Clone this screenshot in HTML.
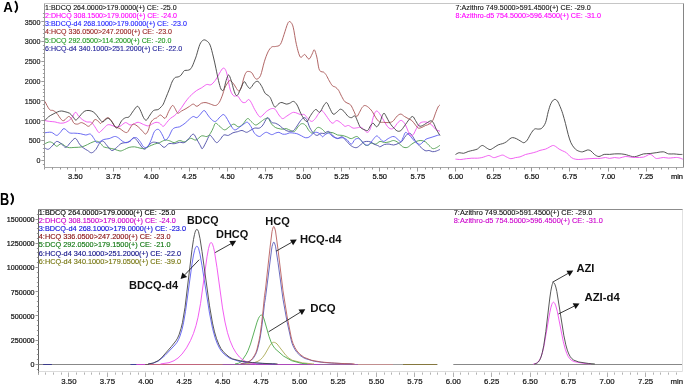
<!DOCTYPE html>
<html><head><meta charset="utf-8"><style>
html,body{margin:0;padding:0;background:#fff;width:685px;height:385px;overflow:hidden}
svg{display:block}
text{font-family:"Liberation Sans",sans-serif}
</style></head><body>
<svg width="685" height="385" viewBox="0 0 685 385" style="will-change:transform" font-family="Liberation Sans, sans-serif">
<rect width="685" height="385" fill="#fff"/>
<text x="0" y="0" font-size="14.3" font-weight="bold" fill="#000" transform="translate(3.2,11.8) scale(0.93,1)">A</text>
<path d="M15.0,1.2 C18.0,4.5 18.0,9.3 15.0,12.5" stroke="#000" stroke-width="1.9" fill="none"/>
<path d="M44.5,3.5 H683.5" stroke="#c6c6c6" stroke-width="1.2" fill="none"/>
<path d="M683.5,3.5 V167.5" stroke="#858585" stroke-width="1" fill="none"/>
<path d="M44.5,3.5 V167.5" stroke="#9a9a9a" stroke-width="1" fill="none"/>
<path d="M44.5,167.5 H683.5" stroke="#a8a8a8" stroke-width="1" fill="none"/>
<path d="M42.9,164.50 H44.5 M41.3,160.50 H44.5 M42.9,156.50 H44.5 M42.9,152.50 H44.5 M42.9,148.50 H44.5 M42.9,144.50 H44.5 M41.3,140.50 H44.5 M42.9,136.50 H44.5 M42.9,132.50 H44.5 M42.9,128.50 H44.5 M42.9,124.50 H44.5 M41.3,120.50 H44.5 M42.9,116.50 H44.5 M42.9,112.50 H44.5 M42.9,108.50 H44.5 M42.9,104.50 H44.5 M41.3,100.50 H44.5 M42.9,96.50 H44.5 M42.9,92.50 H44.5 M42.9,89.50 H44.5 M42.9,85.50 H44.5 M41.3,81.50 H44.5 M42.9,77.50 H44.5 M42.9,73.50 H44.5 M42.9,69.50 H44.5 M42.9,65.50 H44.5 M41.3,61.50 H44.5 M42.9,57.50 H44.5 M42.9,53.50 H44.5 M42.9,49.50 H44.5 M42.9,45.50 H44.5 M41.3,41.50 H44.5 M42.9,37.50 H44.5 M42.9,33.50 H44.5 M42.9,29.50 H44.5 M42.9,25.50 H44.5 M41.3,21.50 H44.5 M42.9,17.50 H44.5 M42.9,13.50 H44.5" stroke="#909090" stroke-width="0.9" fill="none"/>
<text x="0" y="0" transform="translate(40.5,163.1) scale(0.9,1)" font-size="7.9" text-anchor="end" fill="#1a1a1a" stroke="#1a1a1a" stroke-width="0.2">0</text>
<text x="0" y="0" transform="translate(40.5,143.3) scale(0.9,1)" font-size="7.9" text-anchor="end" fill="#1a1a1a" stroke="#1a1a1a" stroke-width="0.2">500</text>
<text x="0" y="0" transform="translate(40.5,123.5) scale(0.9,1)" font-size="7.9" text-anchor="end" fill="#1a1a1a" stroke="#1a1a1a" stroke-width="0.2">1000</text>
<text x="0" y="0" transform="translate(40.5,103.7) scale(0.9,1)" font-size="7.9" text-anchor="end" fill="#1a1a1a" stroke="#1a1a1a" stroke-width="0.2">1500</text>
<text x="0" y="0" transform="translate(40.5,83.9) scale(0.9,1)" font-size="7.9" text-anchor="end" fill="#1a1a1a" stroke="#1a1a1a" stroke-width="0.2">2000</text>
<text x="0" y="0" transform="translate(40.5,64.1) scale(0.9,1)" font-size="7.9" text-anchor="end" fill="#1a1a1a" stroke="#1a1a1a" stroke-width="0.2">2500</text>
<text x="0" y="0" transform="translate(40.5,44.3) scale(0.9,1)" font-size="7.9" text-anchor="end" fill="#1a1a1a" stroke="#1a1a1a" stroke-width="0.2">3000</text>
<text x="0" y="0" transform="translate(40.5,24.5) scale(0.9,1)" font-size="7.9" text-anchor="end" fill="#1a1a1a" stroke="#1a1a1a" stroke-width="0.2">3500</text>
<path d="M44.50,167.5 V169.5 M52.50,167.5 V169.5 M60.50,167.5 V169.5 M67.50,167.5 V169.5 M75.50,167.5 V171.5 M82.50,167.5 V169.5 M90.50,167.5 V169.5 M98.50,167.5 V169.5 M105.50,167.5 V169.5 M113.50,167.5 V171.5 M120.50,167.5 V169.5 M128.50,167.5 V169.5 M136.50,167.5 V169.5 M143.50,167.5 V169.5 M151.50,167.5 V171.5 M159.50,167.5 V169.5 M166.50,167.5 V169.5 M174.50,167.5 V169.5 M181.50,167.5 V169.5 M189.50,167.5 V171.5 M197.50,167.5 V169.5 M204.50,167.5 V169.5 M212.50,167.5 V169.5 M219.50,167.5 V169.5 M227.50,167.5 V171.5 M235.50,167.5 V169.5 M242.50,167.5 V169.5 M250.50,167.5 V169.5 M257.50,167.5 V169.5 M265.50,167.5 V171.5 M273.50,167.5 V169.5 M280.50,167.5 V169.5 M288.50,167.5 V169.5 M295.50,167.5 V169.5 M303.50,167.5 V171.5 M311.50,167.5 V169.5 M318.50,167.5 V169.5 M326.50,167.5 V169.5 M334.50,167.5 V169.5 M341.50,167.5 V171.5 M349.50,167.5 V169.5 M356.50,167.5 V169.5 M364.50,167.5 V169.5 M372.50,167.5 V169.5 M379.50,167.5 V171.5 M387.50,167.5 V169.5 M394.50,167.5 V169.5 M402.50,167.5 V169.5 M410.50,167.5 V169.5 M417.50,167.5 V171.5 M425.50,167.5 V169.5 M432.50,167.5 V169.5 M440.50,167.5 V169.5 M448.50,167.5 V169.5 M455.50,167.5 V171.5 M463.50,167.5 V169.5 M471.50,167.5 V169.5 M478.50,167.5 V169.5 M486.50,167.5 V169.5 M493.50,167.5 V171.5 M501.50,167.5 V169.5 M509.50,167.5 V169.5 M516.50,167.5 V169.5 M524.50,167.5 V169.5 M531.50,167.5 V171.5 M539.50,167.5 V169.5 M547.50,167.5 V169.5 M554.50,167.5 V169.5 M562.50,167.5 V169.5 M569.50,167.5 V171.5 M577.50,167.5 V169.5 M585.50,167.5 V169.5 M592.50,167.5 V169.5 M600.50,167.5 V169.5 M608.50,167.5 V171.5 M615.50,167.5 V169.5 M623.50,167.5 V169.5 M630.50,167.5 V169.5 M638.50,167.5 V169.5 M646.50,167.5 V171.5 M653.50,167.5 V169.5 M661.50,167.5 V169.5 M668.50,167.5 V169.5 M676.50,167.5 V169.5" stroke="#8a8a8a" stroke-width="0.9" fill="none"/>
<text x="75.3" y="178.7" font-size="7.5" text-anchor="middle" fill="#111" stroke="#111" stroke-width="0.22">3.50</text>
<text x="113.4" y="178.7" font-size="7.5" text-anchor="middle" fill="#111" stroke="#111" stroke-width="0.22">3.75</text>
<text x="151.4" y="178.7" font-size="7.5" text-anchor="middle" fill="#111" stroke="#111" stroke-width="0.22">4.00</text>
<text x="189.4" y="178.7" font-size="7.5" text-anchor="middle" fill="#111" stroke="#111" stroke-width="0.22">4.25</text>
<text x="227.5" y="178.7" font-size="7.5" text-anchor="middle" fill="#111" stroke="#111" stroke-width="0.22">4.50</text>
<text x="265.6" y="178.7" font-size="7.5" text-anchor="middle" fill="#111" stroke="#111" stroke-width="0.22">4.75</text>
<text x="303.6" y="178.7" font-size="7.5" text-anchor="middle" fill="#111" stroke="#111" stroke-width="0.22">5.00</text>
<text x="341.6" y="178.7" font-size="7.5" text-anchor="middle" fill="#111" stroke="#111" stroke-width="0.22">5.25</text>
<text x="379.7" y="178.7" font-size="7.5" text-anchor="middle" fill="#111" stroke="#111" stroke-width="0.22">5.50</text>
<text x="417.8" y="178.7" font-size="7.5" text-anchor="middle" fill="#111" stroke="#111" stroke-width="0.22">5.75</text>
<text x="455.8" y="178.7" font-size="7.5" text-anchor="middle" fill="#111" stroke="#111" stroke-width="0.22">6.00</text>
<text x="493.9" y="178.7" font-size="7.5" text-anchor="middle" fill="#111" stroke="#111" stroke-width="0.22">6.25</text>
<text x="531.9" y="178.7" font-size="7.5" text-anchor="middle" fill="#111" stroke="#111" stroke-width="0.22">6.50</text>
<text x="569.9" y="178.7" font-size="7.5" text-anchor="middle" fill="#111" stroke="#111" stroke-width="0.22">6.75</text>
<text x="608.0" y="178.7" font-size="7.5" text-anchor="middle" fill="#111" stroke="#111" stroke-width="0.22">7.00</text>
<text x="646.0" y="178.7" font-size="7.5" text-anchor="middle" fill="#111" stroke="#111" stroke-width="0.22">7.25</text>
<text x="683" y="178.8" font-size="7.5" text-anchor="end" fill="#111" stroke="#111" stroke-width="0.22">min</text>
<g fill="none" stroke-width="0.9" stroke-linejoin="round">
<path d="M44.9,143.7 C45.7,143.4 48.1,142.0 49.5,141.9 C50.9,141.8 51.9,142.5 53.1,143.2 C54.3,143.9 55.3,146.2 56.7,146.3 C58.1,146.4 59.5,143.5 61.3,143.7 C63.1,143.9 65.3,146.8 67.6,147.4 C69.9,148.0 72.5,147.5 74.9,147.4 C77.3,147.3 80.1,147.3 82.2,146.8 C84.3,146.3 85.8,145.3 87.6,144.5 C89.4,143.7 91.4,142.4 93.1,141.9 C94.8,141.4 96.2,141.0 97.6,141.4 C99.0,141.8 100.3,143.2 101.3,144.1 C102.3,145.0 102.3,146.1 103.6,146.8 C104.9,147.5 107.3,147.7 109.1,148.1 C110.9,148.5 112.7,148.7 114.5,149.2 C116.3,149.7 118.3,150.9 120.0,151.0 C121.7,151.1 123.0,150.1 124.5,149.5 C126.0,148.9 127.4,147.8 129.1,147.4 C130.8,147.0 132.7,146.7 134.5,146.8 C136.3,146.9 138.3,147.8 140.0,148.1 C141.7,148.4 143.0,148.9 144.5,148.6 C146.0,148.3 147.4,147.1 149.1,146.3 C150.8,145.6 152.8,144.7 154.5,144.1 C156.2,143.5 157.8,143.3 159.6,142.6 C161.4,141.9 163.4,140.4 165.1,140.1 C166.8,139.8 168.1,140.4 169.6,140.8 C171.1,141.2 172.5,142.7 174.2,142.6 C175.9,142.5 177.8,140.6 179.6,140.5 C181.4,140.4 183.3,142.3 185.1,141.9 C186.9,141.5 188.7,138.6 190.5,138.3 C192.3,138.0 194.2,140.5 196.0,140.1 C197.8,139.7 199.7,136.5 201.5,135.9 C203.3,135.3 205.4,136.9 206.9,136.5 C208.4,136.1 209.4,134.7 210.5,133.2 C211.6,131.7 212.5,129.4 213.3,127.7 C214.2,126.0 214.4,123.4 215.6,123.2 C216.8,123.0 218.7,125.7 220.2,126.8 C221.7,127.9 223.2,129.9 224.7,129.9 C226.2,129.9 227.8,127.8 229.3,126.8 C230.8,125.8 232.3,124.1 233.8,124.1 C235.3,124.1 236.9,126.8 238.4,126.8 C239.9,126.8 241.4,125.5 242.9,124.1 C244.4,122.7 246.1,119.0 247.5,118.6 C248.9,118.1 249.8,120.3 251.1,121.4 C252.4,122.5 254.1,124.8 255.6,125.0 C257.1,125.2 258.7,123.3 260.2,122.3 C261.7,121.3 263.4,119.6 264.7,119.0 C266.0,118.4 267.0,117.7 268.2,118.5 C269.4,119.3 270.4,122.6 271.6,124.1 C272.8,125.6 274.1,126.7 275.3,127.4 C276.5,128.2 277.7,128.3 278.9,128.6 C280.1,128.9 281.3,129.2 282.5,129.2 C283.7,129.2 284.8,128.4 286.2,128.6 C287.6,128.8 289.3,130.0 290.7,130.5 C292.1,131.0 293.2,132.0 294.4,131.4 C295.6,130.8 296.8,128.1 298.0,126.8 C299.2,125.5 300.4,124.0 301.6,123.7 C302.8,123.4 304.1,123.9 305.3,125.0 C306.5,126.1 307.7,129.1 308.9,130.5 C310.1,131.9 311.3,133.5 312.5,133.2 C313.7,132.9 315.1,129.6 316.2,128.6 C317.3,127.6 317.8,127.2 318.9,127.4 C319.9,127.6 321.3,128.5 322.5,129.5 C323.7,130.5 325.2,132.7 326.2,133.2 C327.2,133.7 327.4,132.4 328.5,132.3 C329.6,132.2 331.6,132.4 333.1,132.8 C334.6,133.2 336.1,134.6 337.6,135.0 C339.1,135.4 340.7,135.1 342.2,135.4 C343.7,135.7 345.2,136.3 346.7,136.8 C348.2,137.3 349.6,138.7 351.3,138.6 C353.0,138.5 355.2,136.3 356.7,136.5 C358.2,136.7 359.2,138.2 360.4,139.5 C361.6,140.8 362.8,143.1 364.0,144.1 C365.2,145.1 366.4,145.7 367.6,145.5 C368.8,145.3 369.9,143.4 371.3,143.2 C372.7,143.0 374.4,144.4 375.8,144.1 C377.2,143.8 378.6,141.7 380.0,141.4 C381.4,141.2 383.0,142.5 384.5,142.6 C386.0,142.7 387.6,142.2 389.1,141.9 C390.6,141.6 392.1,140.4 393.6,140.5 C395.1,140.6 396.7,141.5 398.2,142.6 C399.7,143.7 401.2,146.0 402.7,146.8 C404.2,147.6 405.8,147.9 407.3,147.4 C408.8,146.9 410.3,145.1 411.8,144.1 C413.3,143.1 414.9,142.0 416.4,141.4 C417.9,140.8 419.4,140.4 420.9,140.5 C422.4,140.6 424.1,141.1 425.5,141.9 C426.9,142.7 427.9,144.4 429.1,145.5 C430.3,146.6 431.5,148.2 432.7,148.6 C433.9,149.0 435.2,148.2 436.4,147.7 C437.6,147.1 439.4,145.7 440.0,145.3" stroke="#4d9c4d"/>
<path d="M44.9,148.1 C45.5,148.3 47.1,149.7 48.5,149.2 C49.9,148.7 51.7,146.3 53.1,145.0 C54.5,143.7 55.3,141.6 56.7,141.4 C58.1,141.2 59.8,142.7 61.3,143.7 C62.8,144.7 64.3,147.6 65.8,147.4 C67.3,147.2 68.8,144.1 70.4,142.6 C72.0,141.1 73.8,138.1 75.3,138.3 C76.8,138.6 78.2,142.5 79.5,144.1 C80.8,145.7 81.8,146.6 83.1,147.7 C84.4,148.8 86.2,149.7 87.6,150.5 C89.0,151.3 90.2,153.0 91.6,152.8 C93.0,152.6 94.5,151.1 95.8,149.5 C97.1,147.9 98.5,144.5 99.5,143.2 C100.5,141.9 100.8,141.8 101.5,141.5 C102.2,141.2 102.6,140.7 103.6,141.4 C104.6,142.1 105.9,144.4 107.3,145.9 C108.7,147.4 110.3,150.2 111.8,150.5 C113.3,150.8 114.9,148.8 116.4,147.7 C117.9,146.6 119.4,144.5 120.9,143.7 C122.4,142.8 124.0,143.0 125.5,142.6 C127.0,142.2 128.7,142.2 130.0,141.4 C131.3,140.6 132.4,137.8 133.6,137.7 C134.8,137.6 136.1,139.4 137.3,140.8 C138.5,142.2 139.7,144.5 140.9,145.9 C142.1,147.3 143.3,149.2 144.5,149.2 C145.7,149.2 147.0,147.0 148.2,145.9 C149.4,144.8 150.6,143.2 151.8,142.6 C153.0,142.0 154.2,142.1 155.5,142.3 C156.8,142.5 158.2,142.8 159.6,143.7 C161.0,144.5 162.7,147.4 164.2,147.4 C165.7,147.4 167.0,144.3 168.7,143.7 C170.4,143.1 172.4,143.9 174.2,143.7 C176.0,143.5 177.9,142.5 179.6,142.3 C181.3,142.1 182.7,143.2 184.2,142.6 C185.7,142.0 187.2,140.0 188.7,138.6 C190.2,137.2 191.9,133.9 193.3,134.1 C194.7,134.2 195.7,137.5 196.9,139.5 C198.1,141.5 199.6,144.4 200.5,145.9 C201.4,147.4 201.5,149.2 202.4,148.6 C203.3,148.0 204.8,144.5 206.0,142.3 C207.2,140.1 208.5,136.2 209.6,135.4 C210.7,134.6 211.2,136.5 212.4,137.7 C213.6,138.9 215.2,142.3 216.5,142.6 C217.8,142.9 219.0,140.8 220.2,139.5 C221.4,138.2 222.4,135.7 223.8,135.0 C225.2,134.3 226.9,135.8 228.4,135.4 C229.9,135.0 231.4,133.4 232.9,132.8 C234.4,132.2 236.0,132.1 237.5,131.7 C239.0,131.3 240.5,130.4 242.0,130.5 C243.5,130.6 245.1,132.3 246.5,132.3 C247.9,132.3 248.8,131.2 250.2,130.5 C251.6,129.8 253.2,128.5 254.7,128.1 C256.2,127.7 257.9,128.6 259.3,128.1 C260.7,127.6 261.7,126.6 262.9,125.0 C264.1,123.4 265.6,119.8 266.5,118.6 C267.4,117.4 267.6,117.4 268.5,118.0 C269.4,118.6 270.5,121.4 271.6,122.3 C272.7,123.2 274.1,122.8 275.3,123.2 C276.5,123.7 277.7,124.2 278.9,125.0 C280.1,125.8 281.3,127.2 282.5,128.1 C283.7,129.0 285.0,129.9 286.2,130.5 C287.4,131.1 288.6,131.4 289.8,131.4 C291.0,131.4 292.3,131.4 293.5,130.5 C294.7,129.6 295.9,127.6 297.1,125.9 C298.3,124.2 299.5,121.9 300.7,120.5 C301.9,119.1 303.3,117.7 304.4,117.7 C305.5,117.7 306.2,118.8 307.1,120.5 C308.0,122.2 308.7,125.6 309.8,127.7 C310.9,129.8 312.3,131.9 313.5,133.2 C314.7,134.5 315.9,135.4 317.1,135.4 C318.3,135.4 319.6,133.5 320.7,133.2 C321.8,132.9 322.7,133.8 324.0,133.5 C325.3,133.2 327.0,131.0 328.5,131.4 C330.0,131.8 331.6,134.7 333.1,135.9 C334.6,137.1 336.1,138.4 337.6,138.6 C339.1,138.8 340.7,136.3 342.2,136.8 C343.7,137.3 345.2,139.9 346.7,141.4 C348.2,142.9 349.8,144.9 351.3,145.9 C352.8,146.9 354.4,147.7 355.8,147.7 C357.2,147.7 358.3,146.8 359.5,145.9 C360.7,145.0 361.9,143.1 363.1,142.3 C364.3,141.6 365.5,141.5 366.7,141.4 C367.9,141.3 369.2,141.5 370.4,141.9 C371.6,142.3 372.6,143.4 374.0,144.1 C375.4,144.8 377.5,145.4 378.5,145.9 C379.5,146.4 379.0,147.0 380.0,146.8 C381.0,146.6 383.0,144.9 384.5,144.5 C386.0,144.1 387.6,144.0 389.1,144.1 C390.6,144.2 392.1,145.1 393.6,145.0 C395.1,144.9 396.8,144.1 398.2,143.5 C399.6,142.9 400.8,142.5 401.8,141.5 C402.9,140.5 403.6,138.8 404.5,137.5 C405.4,136.2 406.6,134.7 407.5,134.0 C408.4,133.3 409.1,133.1 409.9,133.3 C410.6,133.5 411.4,134.5 412.0,135.3 C412.6,136.1 412.9,136.9 413.7,138.2 C414.5,139.5 415.9,141.6 417.0,143.0 C418.1,144.4 418.6,145.2 420.0,146.5 C421.4,147.8 423.6,149.9 425.1,150.6 C426.6,151.3 427.8,150.3 429.1,150.5 C430.4,150.7 431.5,151.6 432.7,151.7 C433.9,151.8 435.2,151.4 436.4,151.0 C437.6,150.6 439.4,149.7 440.0,149.4" stroke="#4a4aa6"/>
<path d="M44.9,132.8 C46.0,132.7 49.3,131.9 51.3,132.3 C53.3,132.7 55.2,135.4 56.7,135.4 C58.2,135.4 59.2,133.4 60.4,132.3 C61.6,131.2 62.5,128.5 64.0,128.6 C65.5,128.7 67.7,132.0 69.5,132.8 C71.3,133.6 73.1,133.0 74.9,133.2 C76.7,133.3 78.6,133.4 80.4,133.7 C82.2,134.0 84.1,134.9 85.8,135.0 C87.5,135.1 89.0,133.5 90.4,134.1 C91.8,134.7 93.0,137.2 94.0,138.6 C95.0,140.0 95.6,142.1 96.7,142.6 C97.8,143.1 99.2,141.9 100.4,141.4 C101.6,140.9 102.1,140.0 103.6,139.5 C105.0,139.0 107.3,139.1 109.1,138.6 C110.9,138.1 113.0,136.7 114.5,136.5 C116.0,136.3 116.8,136.9 118.2,137.7 C119.6,138.5 121.2,140.6 122.7,141.4 C124.2,142.2 125.6,143.1 127.3,142.6 C129.0,142.1 131.2,139.4 132.7,138.6 C134.2,137.8 135.2,137.2 136.4,137.7 C137.6,138.2 138.8,139.9 140.0,141.4 C141.2,142.9 142.4,145.9 143.6,146.8 C144.8,147.7 146.1,147.9 147.3,146.8 C148.5,145.8 149.7,143.1 150.9,140.5 C152.1,137.9 153.2,133.2 154.5,131.4 C155.8,129.6 157.4,128.9 158.7,129.5 C160.0,130.1 161.3,133.2 162.4,135.0 C163.5,136.8 164.1,139.8 165.1,140.1 C166.1,140.4 167.5,138.6 168.7,136.8 C169.9,135.0 171.2,131.1 172.4,129.5 C173.6,127.9 174.8,127.9 176.0,127.4 C177.2,127.0 178.1,127.5 179.6,126.8 C181.1,126.1 183.4,124.5 185.1,123.2 C186.8,121.9 188.2,120.1 189.6,119.0 C191.0,117.9 192.1,116.7 193.3,116.5 C194.5,116.3 195.7,118.1 196.9,117.7 C198.1,117.3 199.3,115.3 200.5,114.1 C201.7,112.9 203.0,110.3 204.2,110.5 C205.4,110.7 206.6,113.5 207.8,115.0 C209.0,116.5 210.2,118.4 211.5,119.5 C212.8,120.6 214.2,121.9 215.6,121.4 C217.0,121.0 218.8,117.9 220.2,116.8 C221.6,115.7 222.6,114.1 223.8,114.6 C225.0,115.0 226.3,117.6 227.5,119.5 C228.7,121.4 229.9,124.2 231.1,125.9 C232.3,127.6 233.3,129.7 234.7,129.9 C236.1,130.2 237.8,128.4 239.3,127.4 C240.8,126.4 242.4,124.9 243.8,124.1 C245.2,123.2 246.3,121.8 247.5,122.3 C248.7,122.8 249.9,124.9 251.1,126.8 C252.3,128.7 253.3,131.9 254.7,133.5 C256.1,135.1 257.9,136.4 259.3,136.5 C260.7,136.6 261.7,134.8 262.9,134.1 C264.1,133.4 265.1,132.2 266.5,132.3 C267.9,132.4 270.1,134.4 271.6,134.6 C273.1,134.8 274.1,133.6 275.3,133.2 C276.5,132.8 277.7,132.2 278.9,132.3 C280.1,132.5 281.3,133.8 282.5,134.1 C283.7,134.4 285.0,134.3 286.2,134.1 C287.4,133.9 288.4,133.0 289.8,132.8 C291.2,132.7 293.0,133.0 294.4,133.2 C295.8,133.4 296.8,133.6 298.0,134.1 C299.2,134.6 300.4,135.3 301.6,135.9 C302.8,136.5 304.1,137.5 305.3,137.7 C306.5,137.9 307.7,137.8 308.9,137.2 C310.1,136.6 311.4,134.9 312.5,134.1 C313.6,133.3 314.2,132.5 315.3,132.3 C316.4,132.2 317.7,132.4 318.9,133.2 C320.1,133.9 321.6,136.4 322.5,136.8 C323.4,137.2 323.0,136.0 324.0,135.4 C325.0,134.8 327.0,133.0 328.5,133.2 C330.0,133.4 331.6,136.0 333.1,136.8 C334.6,137.7 336.1,138.2 337.6,138.3 C339.1,138.5 340.7,137.5 342.2,137.7 C343.7,137.9 345.2,138.4 346.7,139.5 C348.2,140.6 349.9,144.1 351.3,144.1 C352.7,144.1 353.7,140.4 354.9,139.5 C356.1,138.6 357.3,138.3 358.5,138.6 C359.7,138.9 361.0,140.3 362.2,141.4 C363.4,142.5 364.6,144.6 365.8,145.0 C367.0,145.4 368.3,145.0 369.5,144.1 C370.7,143.2 371.9,140.9 373.1,139.5 C374.3,138.1 375.6,136.1 376.7,135.9 C377.8,135.8 378.9,137.7 380.0,138.6 C381.1,139.5 382.2,141.4 383.6,141.4 C385.0,141.4 386.7,139.4 388.2,138.6 C389.7,137.8 391.5,136.7 392.7,136.5 C393.9,136.3 394.5,136.7 395.5,137.3 C396.5,137.9 397.6,139.3 398.5,140.0 C399.4,140.7 400.4,141.9 401.2,141.3 C402.0,140.7 402.8,138.0 403.5,136.5 C404.2,135.0 404.7,133.0 405.4,132.5 C406.1,132.0 406.6,132.8 407.5,133.5 C408.4,134.2 409.4,135.2 410.6,136.5 C411.8,137.8 413.5,140.1 414.7,141.3 C415.9,142.5 417.0,143.3 418.0,143.8 C419.0,144.3 419.7,144.5 420.5,144.2 C421.3,143.9 422.1,142.8 423.0,142.0 C423.9,141.2 424.8,139.9 426.0,139.2 C427.2,138.5 428.7,138.2 430.0,137.8 C431.3,137.4 432.8,136.9 434.0,136.5 C435.2,136.1 436.3,135.7 437.3,135.4 C438.3,135.1 439.6,134.8 440.0,134.7" stroke="#5a5af0"/>
<path d="M44.9,120.5 C45.7,120.7 47.8,121.2 49.5,121.4 C51.2,121.6 53.1,121.6 54.9,121.9 C56.7,122.2 58.6,123.1 60.4,123.2 C62.2,123.3 64.0,123.1 65.8,122.3 C67.6,121.5 69.7,120.3 71.3,118.6 C72.9,116.9 74.1,112.8 75.3,112.3 C76.5,111.8 77.3,114.7 78.5,115.9 C79.7,117.1 80.8,118.5 82.2,119.5 C83.6,120.5 85.2,121.4 86.7,121.9 C88.2,122.4 89.9,121.5 91.3,122.3 C92.7,123.1 93.7,125.1 94.9,126.8 C96.1,128.5 97.6,131.5 98.5,132.3 C99.4,133.1 99.7,132.1 100.5,131.5 C101.3,130.9 102.5,129.7 103.6,128.6 C104.7,127.5 106.1,125.6 107.3,125.0 C108.5,124.4 109.5,124.7 110.9,125.0 C112.3,125.3 114.0,126.6 115.5,126.8 C117.0,127.0 118.3,127.0 120.0,126.3 C121.7,125.6 123.8,122.8 125.5,122.6 C127.2,122.4 128.7,124.8 130.0,125.0 C131.3,125.2 132.2,124.5 133.6,124.1 C135.0,123.6 136.5,122.2 138.2,122.3 C139.9,122.4 141.9,123.9 143.6,124.5 C145.3,125.1 146.7,126.0 148.2,125.9 C149.7,125.8 151.4,124.3 152.7,123.7 C154.0,123.1 154.8,122.4 156.0,122.3 C157.2,122.2 158.4,122.5 159.6,123.2 C160.8,123.9 162.1,126.5 163.3,126.3 C164.5,126.1 165.7,123.6 166.9,122.3 C168.1,121.0 169.3,119.4 170.5,118.3 C171.7,117.2 173.0,116.9 174.2,115.9 C175.4,114.9 176.6,113.7 177.8,112.3 C179.0,110.9 180.3,109.4 181.5,107.7 C182.7,106.0 183.9,104.0 185.1,102.3 C186.3,100.6 187.6,99.0 188.7,97.7 C189.8,96.5 190.2,96.0 191.5,94.8 C192.8,93.6 194.8,91.8 196.5,90.6 C198.2,89.4 199.9,88.8 201.6,87.8 C203.3,86.8 205.1,85.0 206.7,84.5 C208.2,84.0 209.5,85.5 210.9,84.8 C212.3,84.1 213.8,82.2 215.1,80.6 C216.4,79.0 217.6,76.5 218.5,75.0 C219.4,73.5 219.9,72.5 220.5,71.5 C221.1,70.5 221.8,69.4 222.3,68.8 C222.9,68.2 223.3,68.0 223.8,68.1 C224.3,68.2 224.7,68.3 225.3,69.5 C225.9,70.7 226.4,71.6 227.2,75.0 C228.0,78.4 229.2,86.4 230.3,89.9 C231.4,93.4 232.6,94.9 233.8,95.9 C235.0,96.9 236.1,94.9 237.5,95.9 C238.9,96.9 240.7,100.8 242.0,101.9 C243.3,103.0 244.5,102.7 245.6,102.3 C246.7,101.9 247.5,99.5 248.4,99.5 C249.3,99.5 250.1,100.6 251.1,102.3 C252.1,104.0 253.3,107.1 254.7,109.5 C256.1,111.9 258.1,115.4 259.3,116.5 C260.5,117.6 260.8,116.8 262.0,115.9 C263.2,115.1 264.9,112.6 266.5,111.4 C268.1,110.2 270.1,108.9 271.6,108.6 C273.1,108.3 274.1,108.4 275.3,109.5 C276.5,110.6 277.7,113.5 278.9,115.0 C280.1,116.5 281.3,118.3 282.5,118.6 C283.7,118.8 285.0,117.2 286.2,116.5 C287.4,115.8 288.6,114.8 289.8,114.1 C291.0,113.4 292.3,112.4 293.5,112.3 C294.7,112.2 295.9,112.8 297.1,113.2 C298.3,113.6 299.5,114.4 300.7,114.6 C301.9,114.8 303.2,113.9 304.4,114.6 C305.6,115.3 306.8,117.5 308.0,118.6 C309.2,119.7 310.4,121.4 311.6,121.4 C312.8,121.4 314.1,120.0 315.3,118.6 C316.5,117.2 317.8,114.5 318.9,113.2 C319.9,111.9 320.7,110.5 321.6,110.5 C322.5,110.5 323.4,112.0 324.4,113.2 C325.4,114.4 326.3,116.0 327.6,117.7 C328.9,119.4 330.7,122.7 332.2,123.2 C333.7,123.7 335.2,120.5 336.7,120.5 C338.2,120.5 339.9,122.2 341.3,123.2 C342.7,124.2 343.7,125.9 344.9,126.3 C346.1,126.7 347.1,125.2 348.5,125.5 C349.9,125.8 351.6,127.7 353.1,128.1 C354.6,128.5 356.2,127.8 357.6,127.7 C359.0,127.6 360.1,126.9 361.3,127.4 C362.5,127.9 363.8,129.7 364.9,130.5 C365.9,131.3 366.7,132.6 367.6,132.3 C368.5,132.0 369.5,131.0 370.4,128.6 C371.3,126.2 372.2,120.6 373.1,117.7 C374.0,114.8 374.9,112.3 375.8,111.4 C376.7,110.5 377.4,111.1 378.5,112.3 C379.6,113.5 381.4,116.5 382.7,118.6 C384.0,120.7 385.2,123.3 386.4,125.0 C387.6,126.7 388.8,128.1 390.0,128.6 C391.2,129.1 392.2,129.2 393.6,128.1 C395.0,127.0 396.8,123.6 398.2,122.3 C399.6,121.0 400.6,120.0 401.8,120.5 C403.0,121.0 404.4,123.2 405.5,125.0 C406.6,126.8 407.3,129.6 408.2,131.4 C409.1,133.2 410.0,135.5 410.9,135.9 C411.8,136.3 412.7,135.3 413.6,134.1 C414.5,132.9 415.3,130.4 416.4,128.6 C417.5,126.8 418.8,124.3 420.0,123.2 C421.2,122.1 422.4,122.1 423.6,121.9 C424.8,121.8 425.9,121.8 427.3,122.3 C428.7,122.8 430.4,123.8 431.8,125.0 C433.2,126.2 434.1,128.1 435.5,129.2 C436.9,130.2 439.2,131.0 440.0,131.3" stroke="#f050f0"/>
<path d="M44.9,101.4 C45.7,102.8 48.1,108.0 49.5,109.5 C50.9,111.0 51.9,109.9 53.1,110.5 C54.3,111.1 55.3,111.7 56.7,113.2 C58.1,114.7 60.1,118.3 61.3,119.5 C62.5,120.7 62.8,121.0 64.0,120.5 C65.2,120.0 67.3,116.8 68.5,116.5 C69.7,116.2 70.4,117.5 71.3,118.6 C72.2,119.7 73.0,122.3 74.0,123.2 C75.0,124.1 76.4,124.2 77.6,124.1 C78.8,124.0 80.1,122.6 81.3,122.6 C82.5,122.6 83.7,123.5 84.9,124.1 C86.1,124.7 87.3,126.4 88.5,126.3 C89.7,126.2 91.1,124.3 92.2,123.2 C93.3,122.1 93.9,119.8 94.9,119.5 C96.0,119.2 97.6,120.7 98.5,121.4 C99.4,122.1 99.7,123.7 100.5,123.5 C101.3,123.3 102.3,121.5 103.6,120.5 C104.9,119.5 106.8,117.5 108.2,117.7 C109.6,117.9 110.6,119.9 111.8,121.4 C113.0,122.9 114.1,125.6 115.5,126.8 C116.9,128.0 118.7,127.8 120.0,128.6 C121.3,129.4 122.4,130.8 123.6,131.4 C124.8,132.0 126.1,133.1 127.3,132.3 C128.5,131.5 129.8,128.2 130.9,126.8 C132.0,125.4 132.4,124.1 133.6,124.1 C134.8,124.1 136.7,125.6 138.2,126.8 C139.7,128.0 141.5,130.2 142.7,131.4 C143.9,132.6 144.6,134.2 145.5,134.1 C146.4,133.9 147.3,132.5 148.2,130.5 C149.1,128.5 149.8,124.3 150.9,122.3 C152.0,120.3 153.6,119.3 154.5,118.6 C155.4,117.9 155.5,118.6 156.5,118.0 C157.5,117.4 159.1,115.0 160.5,115.0 C161.9,115.0 163.7,118.9 165.1,118.3 C166.5,117.7 167.5,113.5 168.7,111.4 C169.9,109.3 171.3,106.0 172.4,105.5 C173.5,105.0 174.2,107.3 175.1,108.6 C176.0,109.9 176.7,112.8 177.8,113.2 C178.9,113.6 180.1,111.8 181.5,111.0 C182.9,110.2 184.7,109.4 186.0,108.6 C187.3,107.8 188.4,107.0 189.6,106.3 C190.8,105.5 192.1,104.1 193.3,104.1 C194.5,104.1 195.5,106.4 196.9,106.3 C198.3,106.2 200.0,103.8 201.5,103.2 C203.0,102.6 204.5,102.4 206.0,102.6 C207.5,102.8 208.9,103.6 210.5,104.1 C212.1,104.6 214.1,105.8 215.6,105.5 C217.1,105.2 218.2,104.0 219.3,102.3 C220.5,100.5 221.6,97.3 222.5,95.0 C223.4,92.7 223.8,90.3 224.5,88.5 C225.2,86.7 226.0,85.3 226.9,84.0 C227.8,82.7 228.7,80.7 229.8,80.6 C230.9,80.5 232.3,82.2 233.4,83.5 C234.5,84.8 235.6,87.2 236.5,88.5 C237.4,89.8 238.2,91.2 239.0,91.0 C239.8,90.8 240.7,89.2 241.5,87.0 C242.3,84.8 243.0,80.5 243.8,78.0 C244.6,75.5 245.3,73.4 246.2,72.3 C247.1,71.2 248.1,71.4 249.0,71.5 C249.9,71.6 251.0,71.9 251.9,72.9 C252.8,73.9 253.8,76.5 254.6,77.5 C255.4,78.5 255.9,79.4 256.9,79.1 C257.9,78.8 259.4,78.3 260.6,75.4 C261.8,72.5 263.1,65.7 264.3,61.8 C265.5,57.9 266.8,54.4 268.0,51.9 C269.2,49.4 270.5,47.9 271.7,47.0 C272.9,46.1 274.0,46.9 275.4,46.5 C276.8,46.1 278.9,46.5 280.3,44.5 C281.7,42.5 282.8,38.1 284.0,34.6 C285.2,31.1 286.7,25.6 287.7,23.5 C288.7,21.4 289.3,21.2 290.2,21.8 C291.1,22.4 292.2,23.4 293.2,27.2 C294.2,31.0 295.2,39.5 296.4,44.5 C297.6,49.5 298.9,55.3 300.3,57.0 C301.7,58.7 303.3,54.1 304.7,54.5 C306.1,54.9 307.6,59.2 308.9,59.1 C310.1,59.0 311.3,55.5 312.2,53.9 C313.1,52.3 313.5,49.3 314.3,49.8 C315.1,50.3 316.0,53.9 316.8,57.0 C317.6,60.1 318.2,66.1 318.9,68.5 C319.6,70.9 320.1,70.9 320.8,71.5 C321.6,72.1 322.7,71.7 323.4,72.0 C324.1,72.3 324.5,72.9 325.0,73.5 C325.5,74.1 325.8,74.3 326.5,75.5 C327.2,76.7 328.3,79.2 329.3,80.9 C330.3,82.6 331.4,84.7 332.4,85.7 C333.4,86.8 334.5,86.4 335.5,87.2 C336.5,88.0 337.6,88.8 338.6,90.3 C339.6,91.8 340.6,94.6 341.7,96.5 C342.8,98.4 343.7,100.5 344.9,101.7 C346.1,102.9 347.9,103.1 349.0,103.8 C350.1,104.5 350.5,104.6 351.3,105.9 C352.1,107.2 353.1,109.6 354.0,111.4 C354.9,113.2 355.8,116.3 356.7,116.5 C357.6,116.7 358.6,113.8 359.5,112.3 C360.4,110.8 361.3,108.5 362.2,107.4 C363.1,106.3 363.8,105.5 364.9,105.5 C365.9,105.5 367.3,106.4 368.5,107.4 C369.7,108.4 371.0,109.7 372.2,111.4 C373.4,113.1 374.6,116.0 375.8,117.7 C377.0,119.5 378.2,121.1 379.5,121.9 C380.8,122.7 382.2,122.2 383.6,122.3 C385.1,122.4 386.7,122.8 388.2,122.6 C389.7,122.4 391.2,122.5 392.7,121.4 C394.2,120.3 395.9,117.1 397.3,115.9 C398.7,114.7 399.7,114.0 400.9,114.1 C402.1,114.2 403.3,115.8 404.5,116.5 C405.7,117.2 407.0,117.9 408.2,118.6 C409.4,119.3 410.6,119.4 411.8,120.5 C413.0,121.6 414.4,123.7 415.5,125.0 C416.6,126.3 417.1,127.7 418.2,128.1 C419.2,128.5 420.6,127.8 421.8,127.4 C423.0,127.0 424.3,126.0 425.5,125.5 C426.7,125.0 427.9,124.9 429.1,124.1 C430.3,123.3 431.6,122.3 432.7,120.5 C433.8,118.7 434.6,115.5 435.5,113.2 C436.4,110.9 437.4,108.2 438.2,106.8 C438.9,105.4 439.7,105.3 440.0,105.0" stroke="#a85555"/>
<path d="M44.9,120.5 C45.5,119.9 47.1,117.9 48.5,116.8 C49.9,115.7 51.6,114.9 53.1,114.1 C54.6,113.3 56.2,112.4 57.6,111.9 C59.0,111.4 60.1,111.0 61.3,111.0 C62.5,111.0 63.5,111.3 64.9,111.7 C66.3,112.1 68.1,112.4 69.5,113.2 C70.9,114.0 72.0,115.7 73.1,116.8 C74.1,117.9 74.7,120.1 75.8,120.1 C76.9,120.0 78.3,117.8 79.5,116.5 C80.7,115.2 81.9,113.3 83.1,112.3 C84.3,111.3 85.3,110.7 86.7,110.5 C88.1,110.3 89.9,110.5 91.3,111.0 C92.7,111.5 93.7,112.1 94.9,113.2 C96.1,114.3 97.2,116.2 98.5,117.7 C99.8,119.2 101.2,121.8 102.7,121.9 C104.2,122.0 105.9,118.5 107.3,118.3 C108.7,118.1 109.5,119.0 110.9,120.5 C112.3,122.0 114.3,126.4 115.5,127.4 C116.7,128.5 117.2,128.0 118.2,126.8 C119.2,125.6 120.6,122.0 121.8,120.5 C123.0,119.0 124.3,118.3 125.5,117.7 C126.7,117.1 127.8,118.0 129.1,116.8 C130.4,115.6 132.2,112.2 133.6,110.5 C135.0,108.8 136.2,106.5 137.3,106.3 C138.4,106.1 138.9,107.6 140.0,109.5 C141.1,111.4 142.5,115.9 143.6,117.7 C144.7,119.5 145.3,120.5 146.4,120.1 C147.5,119.6 148.8,116.6 150.0,115.0 C151.2,113.4 152.2,111.4 153.6,110.5 C155.0,109.6 157.0,110.1 158.2,109.5 C159.4,108.9 160.2,107.9 161.0,107.0 C161.8,106.1 162.5,105.7 163.3,104.1 C164.1,102.5 165.0,100.0 166.0,97.5 C167.0,95.0 168.4,91.7 169.4,89.1 C170.4,86.5 171.2,83.7 172.0,82.0 C172.8,80.3 173.4,79.5 174.0,78.7 C174.6,77.9 174.9,77.6 175.6,77.3 C176.3,77.0 177.3,77.2 178.2,76.9 C179.1,76.6 180.0,76.1 180.8,75.4 C181.6,74.7 182.2,73.3 182.8,72.5 C183.4,71.7 183.8,70.9 184.6,70.5 C185.4,70.1 186.6,70.5 187.5,70.3 C188.4,70.1 189.3,70.0 190.0,69.5 C190.7,69.0 191.1,68.4 191.6,67.5 C192.1,66.6 192.7,65.5 193.2,64.2 C193.7,63.0 194.2,61.5 194.8,60.0 C195.4,58.5 195.7,57.9 196.5,55.3 C197.3,52.7 198.8,46.8 199.9,44.3 C201.0,41.8 202.2,40.7 203.3,40.1 C204.4,39.5 205.6,40.1 206.7,40.9 C207.8,41.7 209.0,42.4 210.1,45.1 C211.2,47.8 212.4,53.0 213.4,57.0 C214.4,61.0 215.2,64.9 216.0,68.8 C216.8,72.7 217.7,77.2 218.5,80.6 C219.3,84.0 220.2,87.5 221.0,89.1 C221.8,90.6 222.8,91.3 223.6,89.9 C224.4,88.5 225.3,83.1 226.1,80.6 C226.9,78.1 227.8,74.9 228.6,74.9 C229.4,74.9 230.3,78.0 231.2,80.5 C232.1,83.0 233.0,87.5 233.8,90.0 C234.6,92.5 235.3,94.5 236.0,95.2 C236.7,96.0 237.2,95.7 238.0,94.5 C238.8,93.3 240.0,90.1 241.0,88.0 C242.0,85.9 243.2,82.1 244.2,81.7 C245.2,81.3 246.1,84.4 247.0,85.5 C247.9,86.6 248.7,88.3 249.6,88.4 C250.5,88.5 251.4,87.0 252.2,86.0 C253.0,85.0 253.6,83.3 254.6,82.6 C255.6,81.8 256.9,80.8 258.1,81.5 C259.3,82.2 260.9,85.0 261.8,86.5 C262.7,88.0 262.9,89.0 263.5,90.2 C264.1,91.4 264.6,92.7 265.4,93.6 C266.2,94.5 267.6,94.9 268.5,95.7 C269.4,96.5 269.8,96.8 270.6,98.3 C271.4,99.8 272.4,103.0 273.2,104.5 C274.0,106.0 274.4,107.3 275.3,107.1 C276.2,106.9 277.8,104.3 278.9,103.5 C280.0,102.7 280.8,102.4 282.0,102.5 C283.2,102.6 284.9,104.0 286.2,104.1 C287.5,104.2 288.6,103.7 289.8,103.2 C291.0,102.8 292.3,101.1 293.5,101.4 C294.7,101.7 295.9,103.0 297.1,105.0 C298.3,107.0 299.5,110.8 300.7,113.2 C301.9,115.6 303.3,118.1 304.4,119.5 C305.5,120.9 306.2,121.9 307.1,121.4 C308.0,121.0 308.7,118.5 309.8,116.8 C310.9,115.1 312.4,112.6 313.5,111.4 C314.6,110.2 315.1,109.3 316.2,109.5 C317.2,109.7 318.6,112.9 319.8,112.3 C321.0,111.7 322.4,107.5 323.5,105.9 C324.6,104.3 325.7,102.3 326.7,102.6 C327.7,102.9 328.4,105.8 329.5,107.7 C330.6,109.6 331.9,113.3 333.1,114.1 C334.3,114.9 335.5,113.1 336.7,112.3 C337.9,111.5 339.2,109.3 340.4,109.2 C341.6,109.1 342.8,110.3 344.0,111.4 C345.2,112.5 346.4,114.9 347.6,115.9 C348.8,117.0 350.1,117.7 351.3,117.7 C352.5,117.7 353.8,115.3 354.9,115.9 C355.9,116.5 356.7,119.5 357.6,121.4 C358.5,123.3 359.3,126.1 360.4,127.4 C361.5,128.8 362.8,129.0 364.0,129.5 C365.2,130.0 366.5,131.1 367.6,130.5 C368.7,129.9 369.5,127.1 370.4,125.9 C371.3,124.7 372.1,123.1 373.1,123.2 C374.2,123.3 375.6,127.0 376.7,126.8 C377.8,126.6 379.1,124.0 380.0,122.3 C380.9,120.6 381.1,118.3 381.8,116.8 C382.5,115.3 383.2,113.2 384.0,113.2 C384.8,113.2 385.5,115.3 386.4,116.8 C387.2,118.2 388.1,120.2 389.1,121.9 C390.2,123.6 391.3,125.3 392.7,126.8 C394.1,128.3 395.9,130.4 397.3,131.0 C398.7,131.6 399.7,131.3 400.9,130.5 C402.1,129.7 403.1,127.7 404.5,125.9 C405.9,124.1 407.7,121.1 409.1,119.5 C410.5,117.9 411.6,116.3 412.7,116.5 C413.8,116.7 414.4,118.9 415.5,120.5 C416.6,122.1 417.9,125.1 419.1,125.9 C420.3,126.7 421.5,126.0 422.7,125.5 C423.9,125.0 425.0,124.0 426.4,123.2 C427.8,122.4 429.7,120.8 430.9,120.8 C432.1,120.8 432.7,121.8 433.6,123.2 C434.5,124.7 435.3,127.5 436.4,129.5 C437.5,131.6 439.4,134.5 440.0,135.5" stroke="#404040"/>
<path d="M455.5,154.5 C456.1,154.2 457.8,152.9 459.1,152.7 C460.5,152.5 462.1,153.5 463.6,153.3 C465.1,153.1 466.7,152.0 468.2,151.5 C469.7,151.0 471.2,150.8 472.7,150.4 C474.2,150.0 476.1,149.7 477.3,149.1 C478.5,148.5 479.1,147.3 480.0,146.7 C480.9,146.1 481.6,145.3 482.7,145.5 C483.8,145.7 485.2,147.1 486.4,147.8 C487.6,148.5 488.8,149.6 490.0,149.6 C491.2,149.6 492.2,148.6 493.6,147.8 C495.0,147.0 496.7,145.6 498.2,144.9 C499.7,144.2 501.3,144.1 502.7,143.6 C504.1,143.1 505.2,142.6 506.4,141.8 C507.6,141.0 508.9,139.4 510.0,138.7 C511.1,138.0 511.6,137.6 512.7,137.6 C513.8,137.6 515.0,138.1 516.4,138.7 C517.8,139.3 519.6,140.6 520.9,141.3 C522.2,142.0 522.9,142.9 524.0,142.7 C525.1,142.5 526.1,141.5 527.3,140.0 C528.4,138.5 529.7,135.4 530.9,133.6 C532.1,131.8 533.3,129.8 534.5,129.1 C535.7,128.3 537.0,129.2 538.2,129.1 C539.4,128.9 540.6,129.3 541.8,128.2 C543.0,127.1 544.4,125.4 545.5,122.7 C546.6,120.0 547.3,115.0 548.2,111.8 C549.1,108.6 549.9,105.6 550.9,103.6 C551.9,101.5 553.1,100.0 554.2,99.5 C555.3,99.0 556.3,99.8 557.3,100.9 C558.3,102.1 559.1,104.3 560.0,106.4 C560.9,108.5 561.8,110.7 562.7,113.6 C563.6,116.5 564.6,120.1 565.5,123.6 C566.4,127.1 567.3,131.3 568.2,134.5 C569.1,137.7 569.9,140.4 570.9,142.7 C571.9,145.0 573.3,146.8 574.5,148.2 C575.7,149.6 576.8,150.3 578.2,150.9 C579.6,151.5 581.2,152.0 582.7,151.8 C584.2,151.7 585.9,150.2 587.3,150.0 C588.7,149.8 589.7,150.2 590.9,150.9 C592.1,151.7 593.2,153.6 594.5,154.5 C595.8,155.4 597.3,156.5 598.9,156.5 C600.5,156.5 602.4,154.8 604.2,154.4 C606.0,154.1 607.8,154.5 609.5,154.4 C611.2,154.3 612.7,154.0 614.7,153.9 C616.7,153.8 619.3,153.8 621.3,153.9 C623.3,154.1 625.0,154.4 626.5,154.8 C628.0,155.2 629.2,155.8 630.5,156.1 C631.8,156.4 633.0,156.9 634.4,156.8 C635.8,156.7 637.5,156.0 639.0,155.5 C640.5,155.0 641.7,154.2 643.6,153.9 C645.5,153.6 648.0,153.7 650.2,153.5 C652.4,153.3 654.6,152.9 656.8,152.6 C659.0,152.3 661.3,151.6 663.3,151.8 C665.3,152.0 666.9,153.6 668.6,153.9 C670.4,154.2 672.0,153.8 673.8,153.9 C675.5,154.0 677.7,154.3 679.1,154.4 C680.5,154.5 681.9,154.4 682.4,154.4" stroke="#404040"/>
<path d="M455.5,159.1 C456.4,159.2 459.1,159.6 460.9,159.5 C462.7,159.4 464.6,158.9 466.4,158.7 C468.2,158.5 470.0,158.3 471.8,158.2 C473.6,158.1 475.6,158.3 477.3,158.2 C479.0,158.1 480.4,157.9 481.8,157.6 C483.2,157.3 484.3,156.8 485.5,156.4 C486.7,156.1 487.8,155.3 489.1,155.5 C490.5,155.7 492.1,157.4 493.6,157.6 C495.1,157.8 496.7,156.8 498.2,156.4 C499.7,156.0 501.3,155.0 502.7,155.1 C504.1,155.2 505.0,156.3 506.4,156.9 C507.8,157.5 509.4,158.6 510.9,158.7 C512.4,158.8 514.0,157.9 515.5,157.6 C517.0,157.3 518.3,157.4 520.0,156.9 C521.7,156.4 523.7,155.1 525.5,154.5 C527.3,153.9 529.1,153.8 530.9,153.3 C532.7,152.9 534.9,152.3 536.4,151.8 C537.9,151.3 538.5,150.9 540.0,150.4 C541.5,149.9 544.0,149.6 545.5,149.1 C547.0,148.6 547.9,147.9 549.1,147.3 C550.3,146.7 551.6,145.7 552.7,145.5 C553.8,145.3 554.4,145.8 555.5,146.4 C556.6,147.0 557.9,148.3 559.1,149.1 C560.3,149.8 561.5,150.3 562.7,150.9 C563.9,151.5 565.2,151.8 566.4,152.7 C567.6,153.6 568.8,155.4 570.0,156.4 C571.2,157.4 572.2,158.2 573.6,158.7 C575.0,159.2 576.5,159.4 578.2,159.5 C579.9,159.6 581.8,159.2 583.6,159.1 C585.4,159.0 587.2,158.8 589.1,158.7 C591.0,158.6 593.1,158.4 595.0,158.4 C596.9,158.4 598.5,158.6 600.3,158.4 C602.0,158.2 604.0,157.5 605.5,157.5 C607.0,157.5 608.0,158.4 609.5,158.4 C611.0,158.4 613.1,157.6 614.7,157.5 C616.3,157.4 617.5,158.3 619.3,158.1 C621.0,157.9 623.3,156.7 625.2,156.5 C627.1,156.3 628.8,156.9 630.5,157.1 C632.2,157.3 633.5,157.5 635.7,157.5 C637.9,157.5 641.2,157.6 643.6,157.1 C646.0,156.6 648.2,154.2 650.2,154.4 C652.2,154.6 654.1,157.4 655.4,158.1 C656.7,158.8 656.8,158.5 658.1,158.4 C659.4,158.3 661.5,157.6 663.3,157.5 C665.0,157.4 666.6,158.1 668.6,158.1 C670.6,158.1 673.5,157.6 675.2,157.5 C677.0,157.4 677.8,157.5 679.1,157.8 C680.4,158.1 682.2,159.0 682.8,159.2" stroke="#f050f0"/>
</g>
<text x="45" y="9.7" font-size="7.05" fill="#111111" stroke="#111111" stroke-width="0.12">1:BDCQ 264.0000&gt;179.0000(+) CE: -25.0</text>
<text x="45" y="17.5" font-size="7.05" fill="#ff00ff" stroke="#ff00ff" stroke-width="0.12">2:DHCQ 308.1500&gt;179.0000(+) CE: -24.0</text>
<text x="45" y="25.6" font-size="7.05" fill="#2222ff" stroke="#2222ff" stroke-width="0.12">3:BDCQ-d4 268.1000&gt;179.0000(+) CE: -23.0</text>
<text x="45" y="34.1" font-size="7.05" fill="#992222" stroke="#992222" stroke-width="0.12">4:HCQ 336.0500&gt;247.2000(+) CE: -23.0</text>
<text x="45" y="42.6" font-size="7.05" fill="#229922" stroke="#229922" stroke-width="0.12">5:DCQ 292.0500&gt;114.2000(+) CE: -20.0</text>
<text x="45" y="50.7" font-size="7.05" fill="#222299" stroke="#222299" stroke-width="0.12">6:HCQ-d4 340.1000&gt;251.2000(+) CE: -22.0</text>
<text x="0" y="0" transform="translate(455.6,10.4) scale(1,1.08)" font-size="7.15" fill="#111" stroke="#111" stroke-width="0.12">7:Azithro 749.5000&gt;591.4500(+) CE: -29.0</text>
<text x="0" y="0" transform="translate(455.6,17.6) scale(1,1.08)" font-size="7.15" fill="#ff00ff" stroke="#ff00ff" stroke-width="0.12">8:Azithro-d5 754.5000&gt;596.4500(+) CE: -31.0</text>
<text x="0" y="0" font-size="16" font-weight="bold" fill="#000" transform="translate(0.0,204.9) scale(0.8,1)">B</text>
<path d="M10.9,193.3 C13.9,196.5 13.9,201.5 10.9,204.7" stroke="#000" stroke-width="1.9" fill="none"/>
<path d="M38.5,209.5 H683.0" stroke="#8c8c8c" stroke-width="1" fill="none"/>
<path d="M682.5,209.5 V371.5" stroke="#e2e2e2" stroke-width="1" fill="none"/>
<path d="M38.5,209.5 V374.5" stroke="#606060" stroke-width="1" fill="none"/>
<path d="M38.5,371.5 H682.5" stroke="#dcdcdc" stroke-width="1" fill="none"/>
<path d="M36.9,369.50 H38.5 M35.5,364.50 H38.5 M36.9,359.50 H38.5 M36.9,354.50 H38.5 M36.9,349.50 H38.5 M36.9,344.50 H38.5 M35.5,340.50 H38.5 M36.9,335.50 H38.5 M36.9,330.50 H38.5 M36.9,325.50 H38.5 M36.9,320.50 H38.5 M35.5,315.50 H38.5 M36.9,311.50 H38.5 M36.9,306.50 H38.5 M36.9,301.50 H38.5 M36.9,296.50 H38.5 M35.5,291.50 H38.5 M36.9,286.50 H38.5 M36.9,282.50 H38.5 M36.9,277.50 H38.5 M36.9,272.50 H38.5 M35.5,267.50 H38.5 M36.9,262.50 H38.5 M36.9,257.50 H38.5 M36.9,252.50 H38.5 M36.9,248.50 H38.5 M35.5,243.50 H38.5 M36.9,238.50 H38.5 M36.9,233.50 H38.5 M36.9,228.50 H38.5 M36.9,223.50 H38.5 M35.5,219.50 H38.5 M36.9,214.50 H38.5" stroke="#8a8a8a" stroke-width="0.9" fill="none"/>
<text x="0" y="0" transform="translate(34.6,367.2) scale(0.885,1)" font-size="8.1" text-anchor="end" fill="#111" stroke="#111" stroke-width="0.24">0</text>
<text x="0" y="0" transform="translate(34.6,343.0) scale(0.885,1)" font-size="8.1" text-anchor="end" fill="#111" stroke="#111" stroke-width="0.24">250000</text>
<text x="0" y="0" transform="translate(34.6,318.8) scale(0.885,1)" font-size="8.1" text-anchor="end" fill="#111" stroke="#111" stroke-width="0.24">500000</text>
<text x="0" y="0" transform="translate(34.6,294.6) scale(0.885,1)" font-size="8.1" text-anchor="end" fill="#111" stroke="#111" stroke-width="0.24">750000</text>
<text x="0" y="0" transform="translate(34.6,270.4) scale(0.885,1)" font-size="8.1" text-anchor="end" fill="#111" stroke="#111" stroke-width="0.24">1000000</text>
<text x="0" y="0" transform="translate(34.6,246.2) scale(0.885,1)" font-size="8.1" text-anchor="end" fill="#111" stroke="#111" stroke-width="0.24">1250000</text>
<text x="0" y="0" transform="translate(34.6,222.0) scale(0.885,1)" font-size="8.1" text-anchor="end" fill="#111" stroke="#111" stroke-width="0.24">1500000</text>
<path d="M38.50,372.5 V374.7 M45.50,372.5 V374.7 M53.50,372.5 V374.7 M61.50,372.5 V374.7 M68.50,372.5 V377.0 M76.50,372.5 V374.7 M84.50,372.5 V374.7 M91.50,372.5 V374.7 M99.50,372.5 V374.7 M107.50,372.5 V377.0 M115.50,372.5 V374.7 M122.50,372.5 V374.7 M130.50,372.5 V374.7 M138.50,372.5 V374.7 M145.50,372.5 V377.0 M153.50,372.5 V374.7 M161.50,372.5 V374.7 M168.50,372.5 V374.7 M176.50,372.5 V374.7 M184.50,372.5 V377.0 M191.50,372.5 V374.7 M199.50,372.5 V374.7 M207.50,372.5 V374.7 M214.50,372.5 V374.7 M222.50,372.5 V377.0 M230.50,372.5 V374.7 M238.50,372.5 V374.7 M245.50,372.5 V374.7 M253.50,372.5 V374.7 M261.50,372.5 V377.0 M268.50,372.5 V374.7 M276.50,372.5 V374.7 M284.50,372.5 V374.7 M291.50,372.5 V374.7 M299.50,372.5 V377.0 M307.50,372.5 V374.7 M314.50,372.5 V374.7 M322.50,372.5 V374.7 M330.50,372.5 V374.7 M337.50,372.5 V377.0 M345.50,372.5 V374.7 M353.50,372.5 V374.7 M361.50,372.5 V374.7 M368.50,372.5 V374.7 M376.50,372.5 V377.0 M384.50,372.5 V374.7 M391.50,372.5 V374.7 M399.50,372.5 V374.7 M407.50,372.5 V374.7 M414.50,372.5 V377.0 M422.50,372.5 V374.7 M430.50,372.5 V374.7 M437.50,372.5 V374.7 M445.50,372.5 V374.7 M453.50,372.5 V377.0 M460.50,372.5 V374.7 M468.50,372.5 V374.7 M476.50,372.5 V374.7 M484.50,372.5 V374.7 M491.50,372.5 V377.0 M499.50,372.5 V374.7 M507.50,372.5 V374.7 M514.50,372.5 V374.7 M522.50,372.5 V374.7 M530.50,372.5 V377.0 M537.50,372.5 V374.7 M545.50,372.5 V374.7 M553.50,372.5 V374.7 M560.50,372.5 V374.7 M568.50,372.5 V377.0 M576.50,372.5 V374.7 M583.50,372.5 V374.7 M591.50,372.5 V374.7 M599.50,372.5 V374.7 M607.50,372.5 V377.0 M614.50,372.5 V374.7 M622.50,372.5 V374.7 M630.50,372.5 V374.7 M637.50,372.5 V374.7 M645.50,372.5 V377.0 M653.50,372.5 V374.7 M660.50,372.5 V374.7 M668.50,372.5 V374.7 M676.50,372.5 V374.7" stroke="#a8a8a8" stroke-width="0.9" fill="none"/>
<text x="68.9" y="383.8" font-size="7.8" text-anchor="middle" fill="#111" stroke="#111" stroke-width="0.2">3.50</text>
<text x="107.4" y="383.8" font-size="7.8" text-anchor="middle" fill="#111" stroke="#111" stroke-width="0.2">3.75</text>
<text x="145.8" y="383.8" font-size="7.8" text-anchor="middle" fill="#111" stroke="#111" stroke-width="0.2">4.00</text>
<text x="184.2" y="383.8" font-size="7.8" text-anchor="middle" fill="#111" stroke="#111" stroke-width="0.2">4.25</text>
<text x="222.7" y="383.8" font-size="7.8" text-anchor="middle" fill="#111" stroke="#111" stroke-width="0.2">4.50</text>
<text x="261.1" y="383.8" font-size="7.8" text-anchor="middle" fill="#111" stroke="#111" stroke-width="0.2">4.75</text>
<text x="299.6" y="383.8" font-size="7.8" text-anchor="middle" fill="#111" stroke="#111" stroke-width="0.2">5.00</text>
<text x="338.0" y="383.8" font-size="7.8" text-anchor="middle" fill="#111" stroke="#111" stroke-width="0.2">5.25</text>
<text x="376.4" y="383.8" font-size="7.8" text-anchor="middle" fill="#111" stroke="#111" stroke-width="0.2">5.50</text>
<text x="414.9" y="383.8" font-size="7.8" text-anchor="middle" fill="#111" stroke="#111" stroke-width="0.2">5.75</text>
<text x="453.3" y="383.8" font-size="7.8" text-anchor="middle" fill="#111" stroke="#111" stroke-width="0.2">6.00</text>
<text x="491.7" y="383.8" font-size="7.8" text-anchor="middle" fill="#111" stroke="#111" stroke-width="0.2">6.25</text>
<text x="530.2" y="383.8" font-size="7.8" text-anchor="middle" fill="#111" stroke="#111" stroke-width="0.2">6.50</text>
<text x="568.6" y="383.8" font-size="7.8" text-anchor="middle" fill="#111" stroke="#111" stroke-width="0.2">6.75</text>
<text x="607.0" y="383.8" font-size="7.8" text-anchor="middle" fill="#111" stroke="#111" stroke-width="0.2">7.00</text>
<text x="645.5" y="383.8" font-size="7.8" text-anchor="middle" fill="#111" stroke="#111" stroke-width="0.2">7.25</text>
<text x="683" y="383.8" font-size="7.8" text-anchor="end" fill="#111" stroke="#111" stroke-width="0.2">min</text>
<g fill="none" stroke-width="0.9" stroke-linejoin="round">
<path d="M39.0,364.5 H437.5" stroke="#7a7a7a"/>
<path d="M453.3,364.5 H682.0" stroke="#7a7a7a"/>
<path d="M130.5,364.5 H136.5" stroke="#3a3a9a"/>
<path d="M136.5,364.5 H145.3" stroke="#d040d0"/>
<path d="M145.3,364.5 H149" stroke="#6a4a4a"/>
<path d="M149,364.5 H200" stroke="#c8607a"/>
<path d="M200,364.5 H222.8" stroke="#b87070"/>
<path d="M222.8,364.5 H250" stroke="#a050a8"/>
<path d="M250,364.5 H320" stroke="#b040c0"/>
<path d="M320,364.5 H340" stroke="#9a60a0"/>
<path d="M340,364.5 H358" stroke="#a860a8"/>
<path d="M358,364.5 H393" stroke="#c89090"/>
<path d="M393,364.5 H403" stroke="#a0a0a0"/>
<path d="M403,364.5 H437" stroke="#857535"/>
<path d="M245.00,363.96 L254.50,362.54 L258.00,361.23 L260.50,359.60 L262.50,357.62 L265.00,354.09 L270.00,345.35 L271.50,343.44 L272.50,342.65 L273.50,342.31 L274.50,342.40 L275.50,342.79 L277.00,343.89 L286.00,355.51 L289.00,358.30 L292.50,360.35 L302.50,362.86 L312.50,363.86 L314.00,363.94" stroke="#aaaa55"/>
<path d="M240.50,364.00 L246.50,362.81 L250.00,361.18 L251.50,360.09 L253.50,357.84 L255.50,354.64 L256.50,352.40 L258.00,347.50 L260.00,338.74 L261.50,328.98 L263.00,317.00 L264.50,303.56 L265.50,297.60 L271.50,250.09 L272.00,246.73 L272.50,244.74 L273.00,243.26 L273.50,242.29 L274.00,242.20 L274.50,243.04 L275.50,246.13 L278.00,262.42 L283.00,299.18 L287.00,321.42 L291.00,339.44 L292.00,343.07 L293.00,345.78 L295.00,349.63 L297.00,352.48 L300.00,355.44 L304.50,358.35 L314.50,361.34 L324.50,362.57 L334.50,363.24 L344.50,363.67 L352.50,363.92" stroke="#5a5ab8"/>
<path d="M235.00,363.98 L238.50,363.24 L240.50,362.08 L241.50,361.23 L246.00,354.59 L248.00,350.67 L250.50,344.06 L257.00,322.16 L258.50,318.27 L259.50,316.50 L260.00,315.81 L260.50,315.38 L261.00,315.15 L261.50,315.07 L262.00,315.33 L262.50,315.79 L263.00,316.52 L264.00,318.86 L269.00,336.32 L271.00,341.93 L272.50,345.00 L275.00,348.62 L283.50,356.07 L291.50,360.64 L301.50,363.39 L307.50,363.95" stroke="#4aa84a"/>
<path d="M240.50,363.96 L246.00,362.80 L249.50,361.11 L251.00,360.02 L252.50,358.42 L254.50,355.35 L256.00,352.27 L257.00,349.25 L259.00,340.72 L260.00,335.48 L261.50,324.47 L263.00,310.96 L264.50,295.80 L265.50,289.07 L270.00,247.84 L272.00,231.71 L272.50,229.46 L273.00,227.79 L273.50,226.71 L274.00,226.60 L274.50,227.54 L275.50,231.04 L278.00,249.40 L283.00,290.86 L287.00,315.95 L291.00,336.27 L292.00,340.36 L293.00,343.41 L295.00,347.76 L297.00,350.97 L300.00,354.31 L304.00,357.30 L311.50,360.27 L321.50,362.05 L331.50,362.90 L341.50,363.47 L351.50,363.84 L354.50,363.93" stroke="#b85e5e"/>
<path d="M148.50,363.96 L153.50,363.10 L158.50,360.93 L165.00,355.48 L175.00,344.87 L177.00,342.28 L178.50,339.66 L180.00,335.99 L182.00,329.56 L183.50,322.88 L185.50,311.51 L192.00,263.90 L193.50,255.05 L194.50,250.71 L195.00,248.94 L195.50,247.73 L196.00,246.90 L196.50,246.29 L197.00,246.12 L197.50,246.50 L198.50,248.22 L200.00,254.29 L202.00,265.60 L209.50,313.11 L212.50,328.29 L215.00,337.53 L217.00,342.99 L219.50,348.22 L221.50,351.26 L224.50,354.52 L230.00,358.38 L239.00,361.23 L249.00,362.52 L259.00,363.26 L269.00,363.74 L275.50,363.92" stroke="#5a5af2"/>
<path d="M160.50,363.95 L169.00,362.66 L174.00,360.72 L178.00,358.07 L182.00,354.12 L186.50,347.88 L190.50,340.52 L193.50,333.41 L196.00,325.60 L198.00,317.37 L200.50,303.71 L207.00,256.79 L208.50,248.57 L209.50,244.86 L210.00,243.63 L210.50,242.84 L211.00,242.52 L211.50,242.64 L212.00,243.19 L212.50,244.15 L213.50,247.25 L214.50,251.77 L217.00,267.72 L222.50,307.91 L225.00,322.05 L227.50,332.71 L230.00,340.62 L233.00,347.61 L236.00,352.77 L239.50,357.12 L243.00,360.07 L247.50,362.34 L256.00,363.95" stroke="#f04cf0"/>
<path d="M148.00,363.97 L153.00,363.09 L158.00,360.76 L161.50,357.88 L171.50,346.40 L176.00,340.70 L177.50,338.23 L179.00,334.87 L181.00,328.50 L182.50,322.35 L185.00,307.44 L192.00,249.54 L193.50,239.41 L194.50,234.45 L195.00,232.44 L195.50,231.05 L196.00,230.10 L196.50,229.41 L197.00,229.21 L197.50,229.65 L198.50,231.61 L200.00,238.55 L202.00,251.47 L209.50,305.78 L212.50,323.14 L214.50,331.85 L216.50,338.56 L219.00,344.86 L221.00,348.65 L224.00,352.59 L229.00,356.87 L232.50,358.86 L242.50,361.43 L252.50,362.60 L262.50,363.34 L272.50,363.78 L277.50,363.93" stroke="#454545"/>
<path d="M533.30,364.06 L535.30,363.62 L536.80,362.91 L537.80,362.13 L538.80,361.01 L539.80,359.46 L540.80,357.36 L542.30,352.98 L543.80,346.94 L549.80,312.55 L550.80,307.89 L551.80,304.48 L552.30,303.33 L552.80,302.58 L553.30,302.25 L553.80,302.32 L554.30,302.73 L554.80,303.47 L555.80,305.86 L557.30,311.45 L563.30,341.70 L565.30,349.33 L566.80,353.55 L568.30,356.61 L569.80,358.73 L571.30,360.15 L573.80,361.54 L583.80,363.42 L590.80,363.95" stroke="#f04cf0"/>
<path d="M534.30,364.04 L536.30,363.48 L537.30,362.91 L538.30,362.04 L539.30,360.73 L540.30,358.83 L541.30,356.18 L542.30,352.61 L543.80,345.26 L545.80,331.61 L549.80,298.03 L550.80,291.17 L551.80,286.07 L552.30,284.34 L552.80,283.20 L553.30,282.69 L553.80,282.75 L554.30,283.24 L554.80,284.13 L555.80,287.06 L556.80,291.35 L563.80,335.26 L565.80,344.81 L567.30,350.12 L568.80,354.01 L570.30,356.74 L571.80,358.60 L573.80,360.17 L578.80,361.99 L588.80,363.50 L594.80,363.93" stroke="#454545"/>
<path d="M43.1,364.5 H51.9" stroke="#33338a"/>
</g>
<text x="0" y="0" transform="translate(38.8,215.1) scale(1.06,1)" font-size="6.9" fill="#000000" stroke="#000000" stroke-width="0.13">1:BDCQ 264.0000&gt;179.0000(+) CE: -25.0</text>
<text x="0" y="0" transform="translate(38.8,222.6) scale(1.06,1)" font-size="6.9" fill="#cc00cc" stroke="#cc00cc" stroke-width="0.13">2:DHCQ 308.1500&gt;179.0000(+) CE: -24.0</text>
<text x="0" y="0" transform="translate(38.8,230.5) scale(1.06,1)" font-size="6.9" fill="#1111dd" stroke="#1111dd" stroke-width="0.13">3:BDCQ-d4 268.1000&gt;179.0000(+) CE: -23.0</text>
<text x="0" y="0" transform="translate(38.8,238.5) scale(1.06,1)" font-size="6.9" fill="#881111" stroke="#881111" stroke-width="0.13">4:HCQ 336.0500&gt;247.2000(+) CE: -23.0</text>
<text x="0" y="0" transform="translate(38.8,247.2) scale(1.06,1)" font-size="6.9" fill="#117711" stroke="#117711" stroke-width="0.13">5:DCQ 292.0500&gt;179.1500(+) CE: -21.0</text>
<text x="0" y="0" transform="translate(38.8,255.6) scale(1.06,1)" font-size="6.9" fill="#111188" stroke="#111188" stroke-width="0.13">6:HCQ-d4 340.1000&gt;251.2000(+) CE: -22.0</text>
<text x="0" y="0" transform="translate(38.8,263.9) scale(1.06,1)" font-size="6.9" fill="#777711" stroke="#777711" stroke-width="0.13">6:HCQ-d4 340.1000&gt;179.0500(+) CE: -39.0</text>
<text x="453.8" y="214.9" font-size="7.33" fill="#111" stroke="#111" stroke-width="0.12">7:Azithro 749.5000&gt;591.4500(+) CE: -29.0</text>
<text x="453.8" y="222.6" font-size="7.33" fill="#cc00cc" stroke="#cc00cc" stroke-width="0.12">8:Azithro-d5 754.5000&gt;596.4500(+) CE: -31.0</text>
<text x="187.1" y="224.0" font-size="10.8" font-weight="bold" fill="#111" textLength="31.5" lengthAdjust="spacingAndGlyphs">BDCQ</text>
<text x="216.0" y="237.8" font-size="10.8" font-weight="bold" fill="#111" textLength="32.3" lengthAdjust="spacingAndGlyphs">DHCQ</text>
<text x="129.0" y="288.6" font-size="10.8" font-weight="bold" fill="#111" textLength="49.1" lengthAdjust="spacingAndGlyphs">BDCQ-d4</text>
<text x="265.3" y="224.7" font-size="10.8" font-weight="bold" fill="#111" textLength="24.5" lengthAdjust="spacingAndGlyphs">HCQ</text>
<text x="299.9" y="243.2" font-size="10.8" font-weight="bold" fill="#111" textLength="41.7" lengthAdjust="spacingAndGlyphs">HCQ-d4</text>
<text x="310.2" y="311.6" font-size="10.8" font-weight="bold" fill="#111" textLength="25.4" lengthAdjust="spacingAndGlyphs">DCQ</text>
<text x="576.4" y="271.8" font-size="10.8" font-weight="bold" fill="#111" textLength="18.0" lengthAdjust="spacingAndGlyphs">AZI</text>
<text x="584.4" y="300.9" font-size="10.8" font-weight="bold" fill="#111" textLength="35.5" lengthAdjust="spacingAndGlyphs">AZI-d4</text>
<path d="M215.1,252.6 L231.0,243.7" stroke="#222" stroke-width="0.9"/>
<path d="M236.2,240.8 L232.5,246.5 L229.4,240.9Z" fill="#111"/>
<path d="M199.2,259.7 L184.8,274.8" stroke="#222" stroke-width="0.9"/>
<path d="M180.6,279.1 L182.4,272.6 L187.1,277.0Z" fill="#111"/>
<path d="M276.0,251.2 L291.6,242.4" stroke="#222" stroke-width="0.9"/>
<path d="M296.8,239.5 L293.1,245.2 L290.0,239.7Z" fill="#111"/>
<path d="M268.6,331.8 L300.2,312.3" stroke="#222" stroke-width="0.9"/>
<path d="M305.3,309.2 L301.9,315.1 L298.5,309.6Z" fill="#111"/>
<path d="M552.2,282.4 L568.1,273.4" stroke="#222" stroke-width="0.9"/>
<path d="M573.3,270.5 L569.6,276.2 L566.5,270.7Z" fill="#111"/>
<path d="M558.4,314.0 L574.1,306.2" stroke="#222" stroke-width="0.9"/>
<path d="M579.5,303.5 L575.6,309.0 L572.7,303.3Z" fill="#111"/>
</svg>
</body></html>
